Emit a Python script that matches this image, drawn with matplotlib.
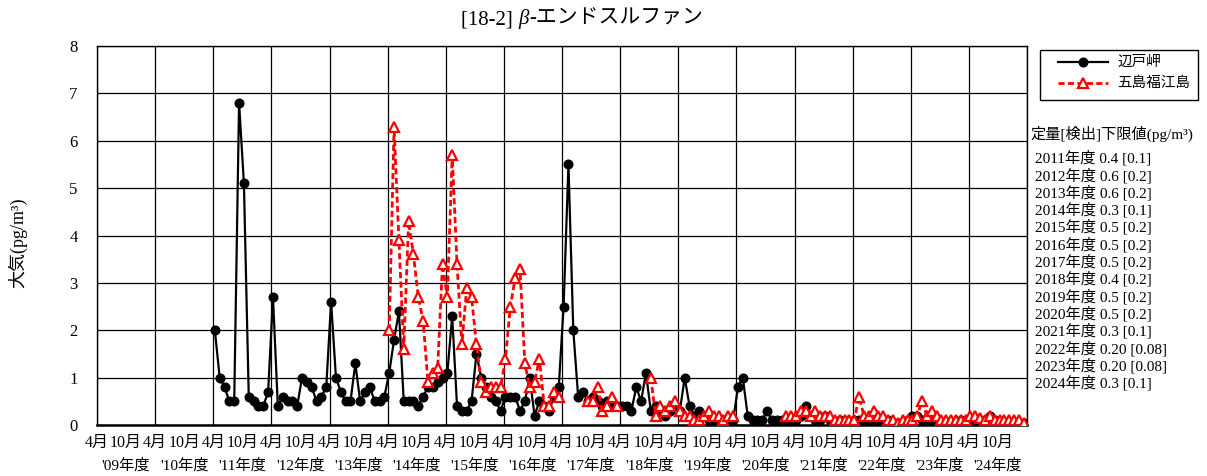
import numpy as np
import matplotlib
matplotlib.use("Agg")
import matplotlib.pyplot as plt
import matplotlib.transforms as mtransforms
from matplotlib.offsetbox import TextArea, HPacker, AnnotationBbox
from matplotlib.lines import Line2D
from matplotlib.patches import Rectangle

FONT = ["Liberation Serif", "Noto Sans CJK JP"]
plt.rcParams["font.family"] = FONT

# ---------------- data ----------------
title_parts = ["[18-2] ", "β", "-エンドスルファン"]
ylabel = "大気(pg/m³)"
series_names = ["辺戸岬", "五島福江島"]

# 辺戸岬: monthly, from April 2011 (FY2011) to March 2025
hedo_start_month = 24   # months after April 2009
hedo = [
    2.0, 1.0, 0.8, 0.5, 0.5, 6.8, 5.1, 0.6, 0.5, 0.4, 0.4, 0.7,      # FY2011
    2.7, 0.4, 0.6, 0.5, 0.5, 0.4, 1.0, 0.9, 0.8, 0.5, 0.6, 0.8,      # FY2012
    2.6, 1.0, 0.7, 0.5, 0.5, 1.3, 0.5, 0.7, 0.8, 0.5, 0.5, 0.6,      # FY2013
    1.1, 1.8, 2.4, 0.5, 0.5, 0.5, 0.4, 0.6, 0.8, 0.8, 0.9, 1.0,      # FY2014
    1.1, 2.3, 0.4, 0.3, 0.3, 0.5, 1.5, 1.0, 0.8, 0.6, 0.5, 0.3,      # FY2015
    0.6, 0.6, 0.6, 0.3, 0.5, 1.0, 0.2, 0.5, 0.4, 0.3, 0.6, 0.8,      # FY2016
    2.5, 5.5, 2.0, 0.6, 0.7, 0.5, 0.6, 0.5, 0.4, 0.5, 0.4, 0.4,      # FY2017
    0.4, 0.4, 0.3, 0.8, 0.5, 1.1, 0.3, 0.4, 0.3, 0.2, 0.3, 0.4,      # FY2018
    0.3, 1.0, 0.4, 0.2, 0.3, 0.2, 0.1, 0.1, 0.1, 0.1, 0.1, 0.1,      # FY2019
    0.8, 1.0, 0.2, 0.1, 0.1, 0.1, 0.3, 0.1, 0.1, 0.1, 0.1, 0.1,      # FY2020
    0.1, 0.2, 0.4, 0.2, 0.1, 0.1, 0.2, 0.1, 0.05, 0.1, 0.05, 0.05,   # FY2021
    0.1, 0.1, 0.1, 0.05, 0.1, 0.05, 0.05, 0.1, 0.05, 0.05, 0.05, 0.1,  # FY2022
    0.2, 0.2, 0.1, 0.1, 0.1, 0.05, 0.05, 0.05, 0.05, 0.05, 0.1, 0.05,  # FY2023
    0.1, 0.1, 0.05, 0.1, 0.2, 0.1, 0.05, 0.05, 0.05, 0.05, 0.05, 0.05, # FY2024
]

# 五島福江島: monthly, from April 2014 (FY2014); None = no data
fukue_start_month = 60
fukue = [
    2.0, 6.3, 3.9, 1.6, 4.3, 3.6, 2.7, 2.2, 0.9, 1.1, 1.2, 3.4,      # FY2014
    2.7, 5.7, 3.4, 1.7, 2.9, 2.7, 1.7, 0.9, 0.7, 0.8, 0.8, 0.8,      # FY2015
    1.4, 2.5, 3.1, 3.3, 1.3, 0.8, 0.9, 1.4, 0.4, 0.4, 0.7, 0.6,      # FY2016
    None, None, None, None, None, 0.5, 0.5, 0.8, 0.3, 0.4, 0.6, 0.4,  # FY2017
    None, None, None, None, None, None, 1.0, 0.2, 0.4, 0.3, 0.4, 0.5, # FY2018
    0.3, 0.2, 0.2, 0.1, 0.1, 0.2, 0.3, 0.2, 0.2, 0.1, 0.2, 0.2,      # FY2019
    None, None, None, None, None, None, None, None, None, None, 0.2, 0.2,  # FY2020
    0.2, 0.3, 0.3, 0.2, 0.3, 0.2, 0.2, 0.2, 0.1, 0.1, 0.1, 0.1,      # FY2021
    0.1, 0.6, 0.2, 0.2, 0.3, 0.2, 0.2, 0.1, 0.1, 0.05, 0.1, 0.1,     # FY2022
    0.1, 0.2, 0.5, 0.2, 0.3, 0.2, 0.1, 0.1, 0.1, 0.1, 0.1, 0.1,      # FY2023
    0.2, 0.2, 0.15, 0.1, 0.2, 0.1, 0.1, 0.1, 0.1, 0.1, 0.1, 0.05,    # FY2024
]

fiscal_year_labels = ["'09年度", "'10年度", "'11年度", "'12年度", "'13年度", "'14年度",
                      "'15年度", "'16年度", "'17年度", "'18年度", "'19年度", "'20年度",
                      "'21年度", "'22年度", "'23年度", "'24年度"]
month_labels = ["4月", "10月"]
yticks = [0, 1, 2, 3, 4, 5, 6, 7, 8]

limits_title = "定量[検出]下限値(pg/m³)"
limits = ["2011年度 0.4 [0.1]", "2012年度 0.6 [0.2]", "2013年度 0.6 [0.2]",
          "2014年度 0.3 [0.1]", "2015年度 0.5 [0.2]", "2016年度 0.5 [0.2]",
          "2017年度 0.5 [0.2]", "2018年度 0.4 [0.2]", "2019年度 0.5 [0.2]",
          "2020年度 0.5 [0.2]", "2021年度 0.3 [0.1]", "2022年度 0.20 [0.08]",
          "2023年度 0.20 [0.08]", "2024年度 0.3 [0.1]"]

# ---------------- figure ----------------
W, H = 1207, 476
fig = plt.figure(figsize=(W / 100, H / 100), dpi=100)
L, R, T, B = 97, 1027, 46, 425
ax = fig.add_axes([L / W, 1 - B / H, (R - L) / W, (B - T) / H])

n_months = 12 * len(fiscal_year_labels)
offset = 0.33
xh = hedo_start_month + np.arange(len(hedo)) + offset
xf = fukue_start_month + np.arange(len(fukue)) + offset
yh = np.array(hedo, dtype=float)
yf = np.array([np.nan if v is None else v for v in fukue], dtype=float)

black_style = dict(color="black", lw=1.6, marker="o", ms=6.2, linestyle="-")
red_style = dict(color="red", lw=2.0, marker="^", ms=7.5, mfc="white", mec="red",
                 mew=1.6, linestyle="--", dashes=(2.2, 1.2))

ax.plot(xh, yh, zorder=3, **black_style)
ax.plot(xf, yf, zorder=4, **red_style)

ax.set_xlim(0, n_months)
ax.set_ylim(0, 8)
ax.set_yticks(yticks)
ax.set_yticklabels([str(v) for v in yticks], fontsize=12)

# month tick labels + yearly grid
ax.xaxis.remove_overlapping_locs = False
maj = np.arange(0, n_months, 6)
ax.set_xticks(maj)
ax.set_xticklabels([month_labels[i % 2] for i in range(len(maj))], fontsize=11.5)
ax.set_xticks(np.arange(0, n_months + 1, 12), minor=True)
ax.tick_params(axis="x", which="both", length=0, pad=7)
ax.tick_params(axis="y", length=0, pad=14)

ax.grid(which="minor", axis="x", color="black", lw=0.9)
ax.grid(which="major", axis="y", color="black", lw=0.9)
ax.grid(which="major", axis="x", visible=False)
ax.set_axisbelow(True)
for s in ax.spines.values():
    s.set_color("black")
    s.set_linewidth(1.0)
ax.spines["bottom"].set_linewidth(1.8)

# fiscal year labels (second row)
trans = mtransforms.blended_transform_factory(ax.transData, fig.transFigure)
for i, lab in enumerate(fiscal_year_labels):
    fig.text(12 * i + 6, 1 - 465 / H, lab, transform=trans, ha="center",
             va="center", fontsize=11)

# y label
fig.text(18 / W, 1 - 243 / H, ylabel, rotation=90, ha="center", va="center",
         fontsize=13)

# title with italic beta
tp = dict(fontsize=15, family=FONT)
parts = [TextArea(title_parts[0], textprops=tp),
         TextArea(title_parts[1], textprops=dict(tp, style="italic")),
         TextArea(title_parts[2], textprops=tp)]
box = HPacker(children=parts, align="baseline", pad=0, sep=0)
ab = AnnotationBbox(box, (582 / W, 1 - 19 / H), xycoords="figure fraction",
                    box_alignment=(0.5, 0.5), frameon=False)
fig.add_artist(ab)

# legend (drawn manually in figure pixel space)
def px(x, y):
    return x / W, 1 - y / H

fig.add_artist(Rectangle(px(1040, 100), 158 / W, 50 / H, transform=fig.transFigure,
                         fill=True, facecolor="white", edgecolor="black", lw=1.0))
for yy, st, name in [(62, black_style, series_names[0]),
                     (83, red_style, series_names[1])]:
    (x0, y0), (x1, _) = px(1058, yy), px(1108, yy)
    st_line = {k: v for k, v in st.items() if k not in ("marker", "ms", "mfc", "mec", "mew")}
    fig.add_artist(Line2D([x0, x1], [y0, y0], transform=fig.transFigure, **st_line))
    mk = {k: v for k, v in st.items() if k in ("color", "marker", "ms", "mfc", "mec", "mew")}
    xm, _ = px(1083, yy)
    fig.add_artist(Line2D([xm], [y0], transform=fig.transFigure, linestyle="none", **mk))
    fig.text(*px(1117, yy), name, ha="left", va="center", fontsize=10.5)

# detection limits
fig.text(1030 / W, 1 - 134 / H, limits_title, ha="left", va="center", fontsize=11)
for i, s in enumerate(limits):
    fig.text(1035 / W, 1 - (158 + 17.3 * i) / H, s, ha="left", va="center",
             fontsize=11)

fig.savefig("out.png", dpi=100)
